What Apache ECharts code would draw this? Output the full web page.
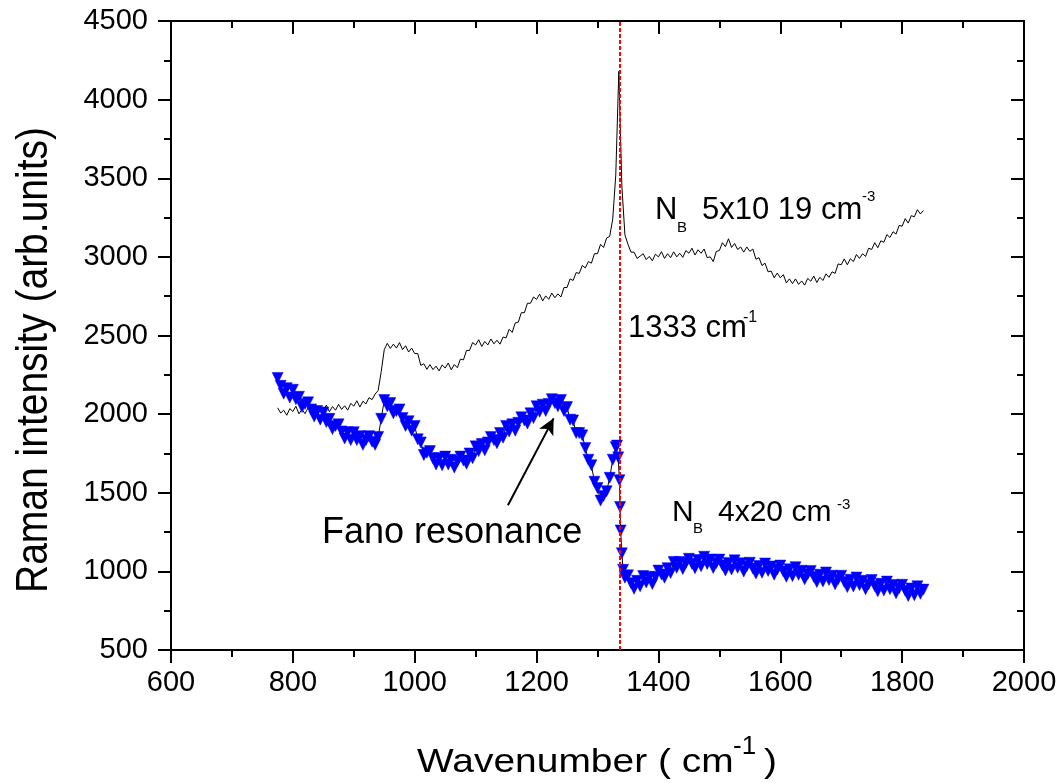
<!DOCTYPE html>
<html>
<head>
<meta charset="UTF-8">
<title>Raman spectra</title>
<script src="https://cdn.jsdelivr.net/npm/echarts@6/dist/echarts.min.js"></script>
<style>
	html, body { margin: 0; padding: 0; background: #fff; }
	#chart { width: 1061px; height: 783px; }
</style>
</head>
<body>
<div id="chart"></div>
<script type="text/javascript">

	// N_B 5x10 19 spectrum (black line), one value every 5 cm-1 from 775
	var blackStart = 775, blackStep = 5;
	var blackInt = [
		2040, 2007, 2025, 1993, 2035, 2017, 2050, 2002, 2030, 2003,
		2040, 2007, 2030, 2000, 2043, 2025, 2057, 2015, 2048, 2025,
		2062, 2030, 2053, 2025, 2068, 2051, 2085, 2045, 2082, 2065,
		2105, 2092, 2128, 2150, 2270, 2410, 2450, 2418, 2445, 2420,
		2455, 2410, 2435, 2395, 2420, 2385, 2385, 2310, 2320, 2285,
		2315, 2283, 2305, 2275, 2313, 2293, 2325, 2282, 2315, 2295,
		2350, 2345, 2405, 2405, 2455, 2440, 2473, 2430, 2462, 2440,
		2478, 2447, 2470, 2445, 2490, 2485, 2540, 2520, 2580, 2585,
		2645, 2645, 2705, 2705, 2745, 2730, 2763, 2720, 2752, 2730,
		2770, 2740, 2765, 2745, 2805, 2805, 2860, 2850, 2900, 2895,
		2945, 2930, 2970, 2960, 3020, 3020, 3080, 3060, 3120, 3130,
		3240, 3520, 4180, 3450, 3140, 3080, 3030, 3030, 2990, 3005,
		3020, 2983, 3003, 2975, 3017, 3000, 3033, 2990, 3020, 2995,
		3032, 3000, 3023, 2997, 3040, 3023, 3055, 3012, 3045, 3023,
		3050, 2995, 3000, 2970, 3035, 3040, 3090, 3065, 3115, 3060,
		3085, 3047, 3063, 3030, 3063, 3035, 3050, 2985, 2995, 2945,
		2960, 2905, 2910, 2867, 2897, 2867, 2887, 2835, 2860, 2830,
		2860, 2825, 2847, 2820, 2863, 2845, 2878, 2837, 2870, 2850,
		2892, 2870, 2905, 2895, 2955, 2950, 2987, 2950, 2988, 2970,
		3015, 2990, 3020, 3003, 3055, 3047, 3090, 3058, 3102, 3093,
		3142, 3123, 3160, 3145, 3200, 3195, 3243, 3215, 3262, 3255,
		3300, 3273, 3295
	];

	// N_B 4x20 spectrum (blue triangles), three pieces
	var blueLowStart = 775, blueLowStep = 5;
	var blueLowInt = [
		2230, 2180, 2130, 2165, 2105, 2155, 2095, 2110, 2045, 2065,
		2075, 2030, 1985, 2020, 1965, 2010, 1950, 1970, 1905, 1925,
		1935, 1890, 1845, 1885, 1835, 1885, 1835, 1860, 1805, 1835,
		1860, 1825, 1805, 1855, 1970, 2090, 2050, 2070, 2005, 2020,
		2030, 1975, 1925, 1955, 1895, 1925, 1840, 1820, 1740, 1755,
		1765, 1720, 1680, 1720, 1675, 1730, 1680, 1710, 1660, 1700,
		1730, 1705, 1685, 1750, 1720, 1795, 1765, 1810, 1770, 1820,
		1855, 1835, 1815, 1880, 1850, 1925, 1890, 1935, 1895, 1945,
		1980, 1960, 1940, 2005, 1975, 2050, 2015, 2060, 2020, 2065,
		2095, 2070, 2050, 2090, 2020, 2045, 1965, 1960, 1880, 1880,
		1865, 1785, 1710, 1675, 1570, 1530, 1450, 1480, 1510, 1595,
		1710, 1790
	];
	var blueDropWave = [1332, 1334, 1336, 1337, 1338, 1340, 1342, 1345];
	var blueDropInt = [1800, 1725, 1580, 1410, 1260, 1115, 1010, 960];
	var blueHighStart = 1350, blueHighStep = 5;
	var blueHighInt = [
		975, 925, 890, 940, 905, 970, 930, 965, 920, 965,
		1005, 980, 960, 1020, 990, 1060, 1023, 1060, 1015, 1053,
		1080, 1048, 1020, 1072, 1033, 1093, 1047, 1075, 1022, 1053,
		1075, 1038, 1006, 1054, 1012, 1070, 1023, 1051, 999, 1032,
		1055, 1018, 986, 1034, 992, 1050, 1003, 1031, 979, 1012,
		1037, 999, 966, 1013, 970, 1027, 978, 1004, 950, 982,
		1003, 965, 932, 979, 936, 993, 945, 972, 918, 950,
		972, 933, 900, 947, 904, 961, 913, 940, 886, 918,
		945, 907, 874, 921, 878, 935, 887, 914, 861, 893,
		915, 877, 844, 891, 848, 905, 857, 884
	];

	var peakLine = 1336;
	var arrowFrom = [1153, 1421];
	var arrowTo = [1228, 1973];

	var FONT = 'Liberation Sans, Arial, sans-serif';

	function stepPairs(start, step, vals) {
		var out = [];
		for (var i = 0; i < vals.length; i++) {
			out.push([start + i * step, vals[i]]);
		}
		return out;
	}

	function listPairs(xs, ys) {
		var out = [];
		for (var i = 0; i < xs.length; i++) {
			out.push([xs[i], ys[i]]);
		}
		return out;
	}

	function txt(x, y, s, size, extra) {
		var el = {
			type : 'text',
			x : x,
			y : y,
			silent : true,
			style : {
				text : s,
				fontSize : size,
				fontFamily : FONT,
				fill : '#000',
				align : 'left',
				textAlign : 'left',
				verticalAlign : 'middle',
				textVerticalAlign : 'middle'
			}
		};
		if (extra) {
			for (var k in extra) el[k] = extra[k];
		}
		return el;
	}

	var blackData = stepPairs(blackStart, blackStep, blackInt);
	var blueData = stepPairs(blueLowStart, blueLowStep, blueLowInt)
		.concat(listPairs(blueDropWave, blueDropInt))
		.concat(stepPairs(blueHighStart, blueHighStep, blueHighInt));

	function mainAxis(pos, min, max, interval) {
		return {
			type : 'value',
			position : pos,
			min : min,
			max : max,
			interval : interval,
			axisLine : { show : true, lineStyle : { color : '#000', width : 2 } },
			axisTick : { show : true, inside : false, length : 13, lineStyle : { color : '#000', width : 2 } },
			minorTick : { show : true, splitNumber : 2, length : 7, lineStyle : { color : '#000', width : 2 } },
			splitLine : { show : false },
			axisLabel : {
				show : true,
				fontSize : 29,
				fontFamily : FONT,
				color : '#000',
				margin : pos == 'left' ? 23 : 18,
				formatter : function (v) { return String(v); }
			}
		};
	}

	function frameAxis(pos, min, max, interval) {
		var a = mainAxis(pos, min, max, interval);
		a.axisTick.inside = true;
		a.axisLabel = { show : false };
		return a;
	}

	var chart = echarts.init(document.getElementById('chart'));

	var option = {
		animation : false,
		backgroundColor : '#fff',
		grid : {
			left : 171,
			right : 37,
			top : 21,
			bottom : 133
		},
		xAxis : [ mainAxis('bottom', 600, 2000, 200), frameAxis('top', 600, 2000, 200) ],
		yAxis : [ mainAxis('left', 500, 4500, 500), frameAxis('right', 500, 4500, 500) ],
		series : [ {
			name : 'NB 5x10 19',
			type : 'line',
			data : blackData,
			showSymbol : false,
			lineStyle : { color : '#000', width : 1 },
			silent : true,
			z : 2
		}, {
			name : 'NB 4x20',
			type : 'line',
			data : blueData,
			symbol : 'triangle',
			symbolRotate : 180,
			symbolSize : 11,
			showAllSymbol : true,
			itemStyle : { color : '#0000ff', borderColor : '#0000ff', borderWidth : 0.5 },
			lineStyle : { color : '#000', width : 1 },
			silent : true,
			z : 3
		}, {
			name : 'marks',
			type : 'line',
			data : [],
			silent : true,
			z : 5,
			markLine : {
				silent : true,
				animation : false,
				label : { show : false },
				data : [
					[ { xAxis : peakLine, yAxis : 500, symbol : 'none', lineStyle : { color : '#ff0000', width : 2, type : [4, 2] } },
					  { xAxis : peakLine, yAxis : 4500, symbol : 'none' } ],
					[ { coord : arrowFrom, symbol : 'none', lineStyle : { color : '#000', width : 2, type : 'solid' } },
					  { coord : arrowTo, symbol : 'arrow', symbolSize : [12, 16] } ]
				]
			}
		} ],
		graphic : [
			txt(655, 210, 'N', 31),
			txt(677, 228, 'B', 15),
			txt(702, 210, '5x10 19 cm', 31),
			txt(862, 197, '-3', 15),
			txt(628, 328, '1333 cm', 31),
			txt(743, 318, '-1', 16),
			txt(322, 533, 'Fano resonance', 36),
			txt(672, 513, 'N', 30),
			txt(693, 529, 'B', 15),
			txt(718, 513, '4x20 cm', 30),
			txt(837, 505, '-3', 15),
			txt(417, 763, 'Wavenumber ( cm', 33, { scaleX : 1.18 }),
			txt(733, 747, '-1', 26),
			txt(764, 763, ')', 33, { scaleX : 1.18 }),
			txt(35, 360, 'Raman intensity (arb.units)', 39, {
				rotation : Math.PI / 2,
				scaleY : 1.15,
				style : {
					text : 'Raman intensity (arb.units)',
					fontSize : 39,
					fontFamily : FONT,
					fill : '#000',
					align : 'center',
					textAlign : 'center',
					verticalAlign : 'middle',
					textVerticalAlign : 'middle'
				}
			})
		]
	};

	chart.setOption(option);
</script>
</body>
</html>
